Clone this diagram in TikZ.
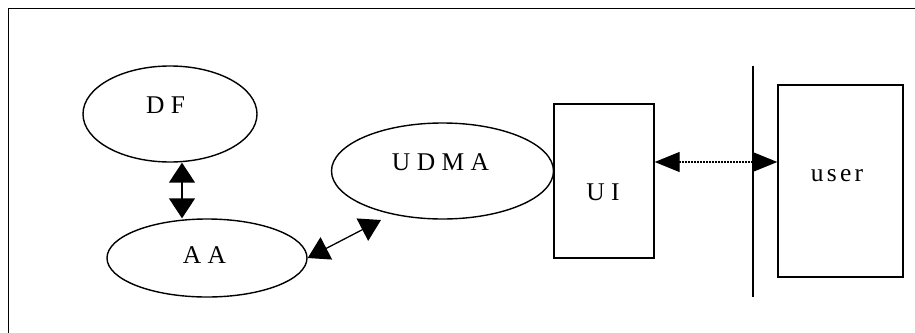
\documentclass[tikz,border=0pt]{standalone}
\usepackage{fontspec}
\setmainfont{Liberation Serif}
\newfontfamily\spacedfont[LetterSpace=13]{Liberation Serif}
\usetikzlibrary{shapes.geometric,arrows.meta}
\tikzset{
  oval/.style={draw, ellipse, line width=1.4pt, inner sep=0pt},
  boxshape/.style={draw, rectangle, line width=1.4pt, inner sep=0pt},
  lbl/.style={anchor=base, inner sep=0pt, font=\fontsize{25.5}{25.5}\selectfont},
  bigtip/.style={line width=1.5pt, {Triangle[length=20pt,width=26pt]}-{Triangle[length=20pt,width=26pt]}},
  midtip/.style={line width=1.3pt, {Triangle[length=21pt,width=25pt]}-{Triangle[length=21pt,width=25pt]}},
  dottip/.style={line width=1.4pt, dash pattern=on 1.4pt off 1.6pt, {Triangle[length=25pt,width=20pt]}-{Triangle[length=25pt,width=20pt]}},
  frameline/.style={line width=1.7pt},
  barline/.style={line width=1.5pt}
}
\begin{document}
\begin{tikzpicture}[x=1pt,y=-1pt]
\useasboundingbox (0,0) rectangle (915,332);
% frame (top and left edges visible)
\coordinate (f0) at (8.5,340);
\coordinate (f1) at (8.5,8.5);
\coordinate (f2) at (925,8.5);
\draw[frameline] (f0) -- (f1) -- (f2);
% shapes
\node[oval, minimum width=174pt, minimum height=96pt] (DF) at (170,114) {};
\node[oval, minimum width=200pt, minimum height=78pt] (AA) at (207,258) {};
\node[oval, minimum width=222pt, minimum height=96pt] (UDMA) at (442.5,171) {};
\node[boxshape, minimum width=100pt, minimum height=154pt] (UI) at (604,181) {};
\node[boxshape, minimum width=125pt, minimum height=192pt] (user) at (840.5,181) {};
% labels
\node[lbl] (tDF) at (165.5,113) {D F};
\node[lbl] (tAA) at (204.5,263) {A A};
\node[lbl] (tUDMA) at (440.5,170.7) {U D M A};
\node[lbl] (tUI) at (603,200.7) {U I};
\node[lbl] (tuser) at (837,181.7) {\spacedfont user};
% vertical bar
\coordinate (v1) at (753,66);
\coordinate (v2) at (753,297);
\draw[barline] (v1) -- (v2);
% connectors
\coordinate (cx) at (182,0);
\draw[bigtip] (DF.south -| cx) -- (AA.north -| cx);
\coordinate (u1) at (381,220);
\draw[midtip] (AA.east) -- (u1);
\coordinate (dy) at (0,162);
\draw[dottip] (UI.east |- dy) -- (user.west |- dy);
\end{tikzpicture}
\end{document}
